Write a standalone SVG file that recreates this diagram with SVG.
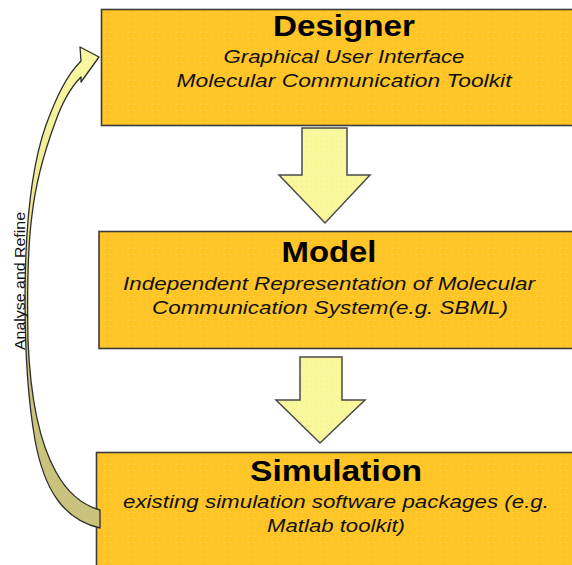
<svg xmlns="http://www.w3.org/2000/svg" width="572" height="565" viewBox="0 0 572 565">
  <style>
    .box { fill: url(#dots); stroke: #3c3c3c; stroke-width: 1.6; }
    .title { font-family: "Liberation Sans", Arial, sans-serif; font-weight: bold; font-size: 29px; fill: #000; text-anchor: middle; }
    .sub { font-family: "Liberation Sans", Arial, sans-serif; font-style: italic; font-size: 17.5px; fill: #111; text-anchor: middle; }
    .flow { fill: url(#paleDots); stroke: #4a4a4a; stroke-width: 1.5; stroke-linejoin: miter; }
    .loop { fill: url(#loopFill); stroke: #2e2e2e; stroke-width: 1.3; stroke-linejoin: round; }
    .side { font-family: "Liberation Sans", Arial, sans-serif; font-size: 15px; fill: #111; text-anchor: middle; }
  </style>
  <defs>
    <!-- orange fill with faint lighter dots -->
    <pattern id="dots" width="6" height="6" patternUnits="userSpaceOnUse">
      <rect width="6" height="6" fill="#FFC426"/>
      <rect x="2" y="2" width="1" height="1" fill="#FFD64C"/>
    </pattern>
    <pattern id="paleDots" width="5" height="5" patternUnits="userSpaceOnUse">
      <rect width="5" height="5" fill="#FAF89C"/>
      <rect x="1" y="1" width="1" height="1" fill="#F0EE8C"/>
    </pattern>
    <linearGradient id="loopFill" gradientUnits="userSpaceOnUse" x1="0" y1="50" x2="0" y2="530">
      <stop offset="0" stop-color="#FAF9A2"/>
      <stop offset="0.45" stop-color="#E6E28A"/>
      <stop offset="0.62" stop-color="#CBC47C"/>
      <stop offset="1" stop-color="#C9C27C"/>
    </linearGradient>
  </defs>

  <!-- stage boxes -->
  <g id="designer">
    <rect class="box" x="101.5" y="9.5" width="480" height="116"/>
    <text class="title" x="344" y="36" textLength="142" lengthAdjust="spacingAndGlyphs">Designer</text>
    <text class="sub" x="344" y="63" textLength="241" lengthAdjust="spacingAndGlyphs">Graphical User Interface</text>
    <text class="sub" x="344" y="87" textLength="335" lengthAdjust="spacingAndGlyphs">Molecular Communication Toolkit</text>
  </g>

  <g id="model">
    <rect class="box" x="99" y="231.5" width="482" height="117"/>
    <text class="title" x="329" y="262" textLength="95" lengthAdjust="spacingAndGlyphs">Model</text>
    <text class="sub" x="329" y="290" textLength="412" lengthAdjust="spacingAndGlyphs">Independent Representation of Molecular</text>
    <text class="sub" x="330" y="314" textLength="356" lengthAdjust="spacingAndGlyphs">Communication System(e.g. SBML)</text>
  </g>

  <g id="simulation">
    <rect class="box" x="96.5" y="452.5" width="485" height="120"/>
    <text class="title" x="336" y="481" textLength="172" lengthAdjust="spacingAndGlyphs">Simulation</text>
    <text class="sub" x="336" y="508" textLength="426" lengthAdjust="spacingAndGlyphs">existing simulation software packages (e.g.</text>
    <text class="sub" x="336" y="532" textLength="138" lengthAdjust="spacingAndGlyphs">Matlab toolkit)</text>
  </g>

  <!-- connectors -->
  <g id="connectors">
    <!-- Designer to Model -->
    <path class="flow" d="M302,128 L347,128 L347,175 L370,175 L325,223 L279,175 L302,175 Z"/>
    <!-- Model to Simulation -->
    <path class="flow" d="M300,357 L342,357 L342,400 L365,400 L320,443 L276,400 L300,400 Z"/>
    <!-- feedback loop from Simulation back to Designer -->
    <path class="loop" d="M100,528
      C 64,520 44,490 35,440
      C 28,400 25,350 25,300
      C 25,240 30,170 46,125
      C 56,98 66,76 81,61
      L 80,47 L 99,57 L 81,82 L 81,77
      C 72,86 63,100 55,123
      C 45,150 36,180 32,215
      C 28,245 27,290 28,340
      C 30,390 38,440 56,472
      C 68,494 82,505 100,510 Z"/>
    <text class="side" transform="translate(24.5,281) rotate(-90)" x="0" y="0" textLength="138" lengthAdjust="spacingAndGlyphs">Analyse and Refine</text>
  </g>
</svg>
